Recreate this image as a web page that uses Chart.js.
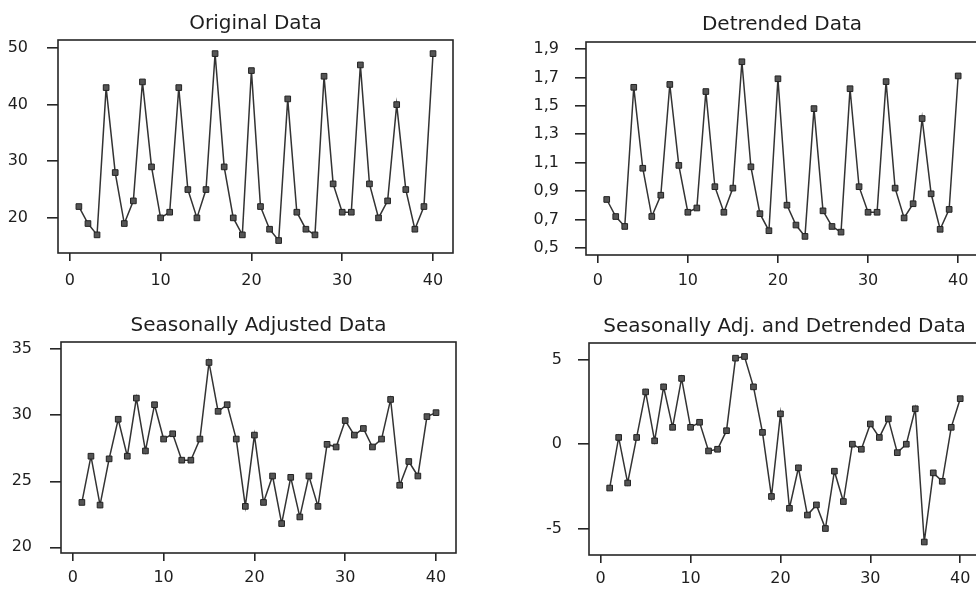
<!DOCTYPE html>
<html><head><meta charset="utf-8">
<script src="https://cdn.jsdelivr.net/npm/chart.js@4/dist/chart.umd.min.js"></script>
<style>
html,body{margin:0;padding:0;background:#fff;overflow:hidden;width:976px;height:594px;position:relative;}
canvas{position:absolute;}
</style></head><body>
<canvas id="c1" width="490" height="297" style="left:0;top:0"></canvas>
<canvas id="c2" width="510" height="297" style="left:490px;top:0"></canvas>
<canvas id="c3" width="490" height="297" style="left:0;top:297px"></canvas>
<canvas id="c4" width="510" height="297" style="left:490px;top:297px"></canvas>
<script>
const periods = [1,2,3,4,5,6,7,8,9,10,11,12,13,14,15,16,17,18,19,20,21,22,23,24,25,26,27,28,29,30,31,32,33,34,35,36,37,38,39,40];
const originalData = [22,19,17,43,28,19,23,44,29,20,21,43,25,20,25,49,29,20,17,46,22,18,16,41,21,18,17,45,26,21,21,47,26,20,23,40,25,18,22,49];
const detrendedData = [0.84,0.72,0.65,1.63,1.06,0.72,0.87,1.65,1.08,0.75,0.78,1.60,0.93,0.75,0.92,1.81,1.07,0.74,0.62,1.69,0.80,0.66,0.58,1.48,0.76,0.65,0.61,1.62,0.93,0.75,0.75,1.67,0.92,0.71,0.81,1.41,0.88,0.63,0.77,1.71];
const seasAdjData = [23.4,26.9,23.2,26.7,29.7,26.9,31.3,27.3,30.8,28.2,28.6,26.6,26.6,28.2,34.0,30.3,30.8,28.2,23.1,28.5,23.4,25.4,21.8,25.3,22.3,25.4,23.1,27.8,27.6,29.6,28.5,29.0,27.6,28.2,31.2,24.7,26.5,25.4,29.9,30.2];
const seasAdjDetData = [-2.6,0.4,-2.3,0.4,3.1,0.2,3.4,1.0,3.9,1.0,1.3,-0.4,-0.3,0.8,5.1,5.2,3.4,0.7,-3.1,1.8,-3.8,-1.4,-4.2,-3.6,-5.0,-1.6,-3.4,0.0,-0.3,1.2,0.4,1.5,-0.5,0.0,2.1,-5.8,-1.7,-2.2,1.0,2.7];

const xTicks = [0,10,20,30,40];
const xTickLabels = ['0','10','20','30','40'];
const originalTicks = [20,30,40,50];
const originalTickLabels = ['20','30','40','50'];
const detrendedTicks = [0.5,0.7,0.9,1.1,1.3,1.5,1.7,1.9];
const detrendedTickLabels = ['0,5','0,7','0,9','1,1','1,3','1,5','1,7','1,9'];
const seasAdjTicks = [20,25,30,35];
const seasAdjTickLabels = ['20','25','30','35'];
const seasAdjDetTicks = [-5,0,5];
const seasAdjDetTickLabels = ['-5','0','5'];

const titles = ['Original Data','Detrended Data','Seasonally Adjusted Data','Seasonally Adj. and Detrended Data'];

const FONT = 'DejaVu Sans';
const INK = '#1e1e1e';

const boxTitle = {
  id: 'boxTitle',
  afterDraw(chart, args, opts) {
    const ctx = chart.ctx, a = chart.chartArea;
    ctx.save();
    ctx.strokeStyle = '#262626';
    ctx.lineWidth = 1.6;
    ctx.strokeRect(a.left, a.top, a.right - a.left, a.bottom - a.top);
    ctx.fillStyle = INK;
    ctx.font = '20px "' + FONT + '"';
    ctx.textAlign = 'center';
    ctx.textBaseline = 'alphabetic';
    ctx.fillText(opts.text, (a.left + a.right) / 2, opts.baseline);
    ctx.restore();
  }
};

function makeChart(id, values, yTicks, yLabels, ymin, ymax, yWidth, pad, title, titleBase, xPad, yPad) {
  new Chart(document.getElementById(id), {
    type: 'line',
    data: { datasets: [{
      data: periods.map((p, i) => ({ x: p, y: values[i] })),
      borderColor: '#333', borderWidth: 1.5, tension: 0,
      pointStyle: 'rect', pointRadius: 4,
      pointBackgroundColor: '#555', pointBorderColor: '#222', pointBorderWidth: 1
    }]},
    options: {
      responsive: false, animation: false, devicePixelRatio: 1,
      layout: { padding: pad },
      plugins: { legend: { display: false }, tooltip: { enabled: false }, title: { display: false },
                 boxTitle: { text: title, baseline: titleBase } },
      scales: {
        x: {
          type: 'linear', min: -1.3, max: 42.2,
          afterBuildTicks: s => { s.ticks = xTicks.map(v => ({ value: v })); },
          afterFit: s => { s.height = 36; },
          grid: { display: true, drawOnChartArea: false, drawTicks: true, tickLength: 8, color: '#262626', lineWidth: 1.6 },
          border: { display: false },
          ticks: { font: { family: FONT, size: 16 }, color: INK, padding: xPad, maxRotation: 0, autoSkip: false,
                   callback: (v, i) => xTickLabels[i] }
        },
        y: {
          type: 'linear', min: ymin, max: ymax,
          afterBuildTicks: s => { s.ticks = yTicks.map(v => ({ value: v })); },
          afterFit: s => { s.width = yWidth; },
          grid: { display: true, drawOnChartArea: false, drawTicks: true, tickLength: 11, color: '#262626', lineWidth: 1.6 },
          border: { display: false },
          ticks: { font: { family: FONT, size: 16 }, color: INK, padding: yPad, autoSkip: false,
                   callback: (v, i) => yLabels[i] }
        }
      }
    },
    plugins: [boxTitle]
  });
}

makeChart('c1', originalData, originalTicks, originalTickLabels, 13.8, 51.4, 58,
  { left: 0, right: 37, top: 40, bottom: 8 }, titles[0], 29.3, 10.7, 19);
makeChart('c2', detrendedData, detrendedTicks, detrendedTickLabels, 0.449, 1.949, 96,
  { left: 0, right: 22, top: 42, bottom: 6 }, titles[1], 30, 8.7, 16);
makeChart('c3', seasAdjData, seasAdjTicks, seasAdjTickLabels, 19.57, 35.55, 61,
  { left: 0, right: 34, top: 45, bottom: 5 }, titles[2], 33.7, 7.4, 18);
makeChart('c4', seasAdjDetData, seasAdjDetTicks, seasAdjDetTickLabels, -6.57, 6.0, 99,
  { left: 0, right: 20, top: 46, bottom: 3 }, titles[3], 34.7, 6.7, 16);
</script>
</body></html>
